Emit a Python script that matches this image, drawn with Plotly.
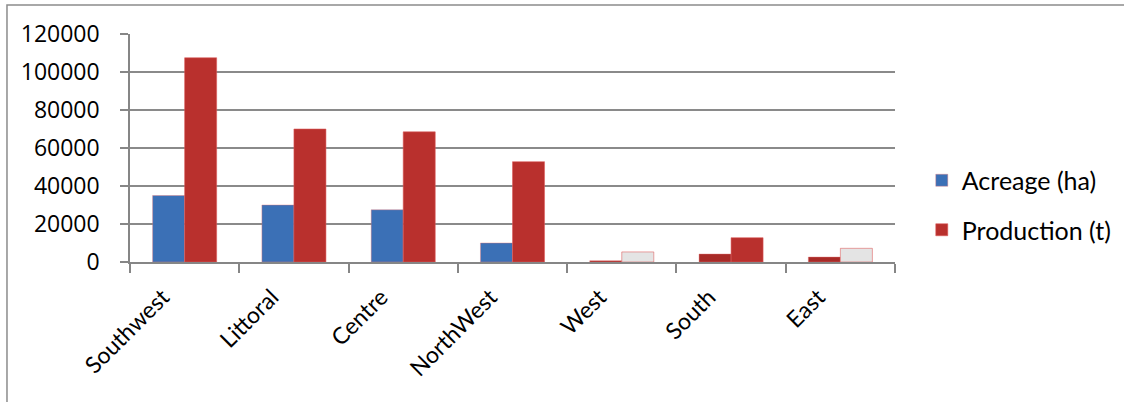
import plotly.graph_objects as go

regions = ["Southwest", "Littoral", "Centre", "NorthWest", "West", "South", "East"]
acreage_ha = [35000, 30000, 27500, 10000, 700, 4200, 2600]
production_t = [107500, 70000, 68500, 52800, 5300, 12800, 7200]
y_ticks = [0, 20000, 40000, 60000, 80000, 100000, 120000]

BLUE = "#3b70b6"
RED = "#b9302d"
DARK_RED = "#a82a27"
PALE = "#e4e4e4"

# the three small regions render with darker acreage bars and pale production bars
acreage_colors = [BLUE, BLUE, BLUE, BLUE, DARK_RED, DARK_RED, DARK_RED]
production_colors = [RED, RED, RED, RED, PALE, RED, PALE]

FONT = "Lato"

fig = go.Figure()
fig.add_trace(go.Bar(
    x=regions, y=acreage_ha, name="Acreage (ha)", legendgroup="a",
    marker=dict(color=acreage_colors, line=dict(color="rgba(230,120,120,0.5)", width=0.8)),
))
fig.add_trace(go.Bar(
    x=regions, y=production_t, name="Production (t)", legendgroup="p",
    marker=dict(color=production_colors, line=dict(color="rgba(220,90,90,0.7)", width=0.8)),
))

fig.update_layout(
    width=1124, height=402,
    margin=dict(l=130, r=229, t=34, b=140, autoexpand=False),
    paper_bgcolor="white", plot_bgcolor="white",
    barmode="group", bargap=0.414, bargroupgap=0,
    font=dict(family=FONT, size=23, color="#000000"),
    showlegend=True,
    legend=dict(
        x=1.035, y=0.25, xanchor="left", yanchor="middle",
        traceorder="grouped", tracegroupgap=14,
        font=dict(family=FONT, size=25, color="#000000"),
        itemwidth=30, bgcolor="rgba(0,0,0,0)",
    ),
    xaxis=dict(
        type="category", tickangle=-45, tickson="boundaries",
        ticks="outside", ticklen=9, tickcolor="#868686", tickwidth=1.5,
        showline=True, linecolor="#868686", linewidth=1.5,
        showgrid=False, tickfont=dict(family=FONT, size=23),
        ticklabelstandoff=11, ticklabelshift=-22,
    ),
    yaxis=dict(
        range=[0, 120000], tickvals=y_ticks, ticktext=[str(v) for v in y_ticks],
        ticks="outside", ticklen=8, tickcolor="#868686", tickwidth=1.5,
        showline=True, linecolor="#868686", linewidth=1.5,
        showgrid=True, gridcolor="#8a8a8a", gridwidth=1.5,
        zeroline=False, ticklabelstandoff=16,
        tickfont=dict(family="Open Sans", size=23),
    ),
    # outer frame: left and top edges visible, right and bottom run off the page
    shapes=[dict(
        type="rect", xref="paper", yref="paper",
        x0=-0.1608, x1=1.40, y0=-0.75, y1=1.127,
        line=dict(color="#8c8c8c", width=1.5), fillcolor="rgba(0,0,0,0)", layer="below",
    )],
)

fig.write_html("out.html")
